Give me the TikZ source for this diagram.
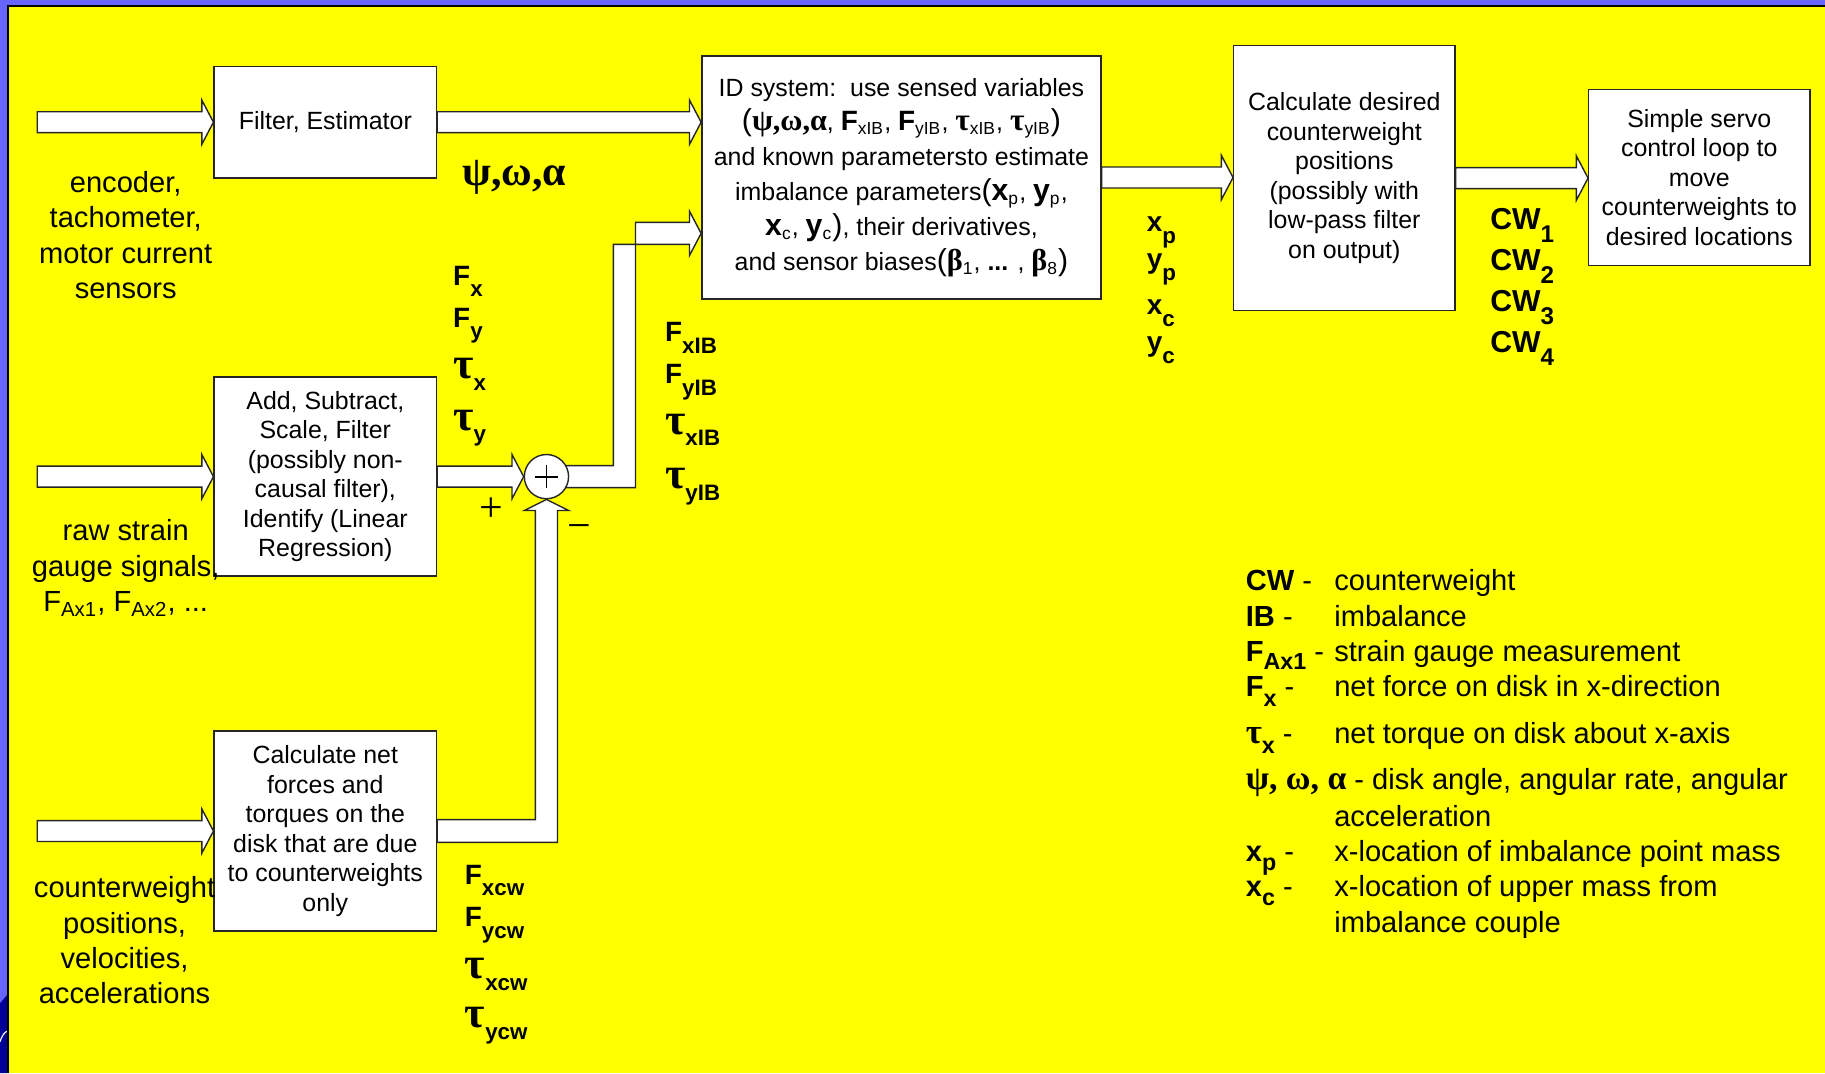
\documentclass[tikz,border=0pt]{standalone}
\usepackage{fontspec}
\setmainfont{Liberation Sans}
\newfontfamily\grk{Liberation Serif}
\usetikzlibrary{calc}
\definecolor{slideyellow}{RGB}{255,255,0}
\definecolor{slideblue}{RGB}{102,102,255}
\definecolor{logoblue}{RGB}{0,0,150}
\pgfdeclarelayer{back}
\pgfdeclarelayer{mid}
\pgfsetlayers{back,mid,main}
% subscript for the bold labels
\newcommand{\lo}[2][0.42]{\raisebox{-#1em}{\scalebox{0.8}{\rmfamily #2}}}
% greek letters
\newcommand{\gk}[2][12]{{\grk\bfseries\fontsize{#1}{#1}\selectfont #2}}
% hollow block arrow, horizontal
\newcommand{\flatarrow}[2]{%
  \draw[bigarrow] ($(#1)+(0,-9)$) -- ($(#2)+(-10,-9)$) -- ($(#2)+(-10,-19)$)
    -- (#2) -- ($(#2)+(-10,19)$) -- ($(#2)+(-10,9)$) -- ($(#1)+(0,9)$) -- cycle;}
\begin{document}
\begin{tikzpicture}[x=0.5pt,y=-0.5pt,
  box/.style={draw=black!85, fill=white, line width=0.6pt, align=center, inner sep=0pt, font=\fontsize{10.7}{12.7}\selectfont},
  bigarrow/.style={draw=black!85, fill=white, line width=0.6pt, line join=miter},
  lbl/.style={align=center, inner sep=0pt, font=\fontsize{12.5}{15.2}\selectfont},
  sym/.style={anchor=base west, inner sep=0pt, font=\fontsize{12}{12}\selectfont\bfseries},
  key/.style={anchor=base west, inner sep=0pt, font=\fontsize{12.5}{15}\selectfont},
  sign/.style={inner sep=0pt, font=\grk\fontsize{18}{18}\selectfont},
  sumnode/.style={circle, draw=black!85, fill=white, line width=0.6pt, minimum size=19pt, inner sep=0pt,
    path picture={\draw[black, line width=0.8pt] ([xshift=-5pt]path picture bounding box.center) -- ([xshift=5pt]path picture bounding box.center)
      ([yshift=-5pt]path picture bounding box.center) -- ([yshift=5pt]path picture bounding box.center);}}]
\useasboundingbox (0,0) rectangle (1568,922);

% slide background
\begin{pgfonlayer}{back}
\fill[slideyellow] (0,0) rectangle (1568,922);
\fill[slideblue] (0,0) rectangle (1568,4.5);
\fill[slideblue] (0,0) rectangle (6,922);
\fill[logoblue] (0,862) -- (6,855) -- (6,922) -- (0,922) -- cycle;
\draw[white, line width=0.5pt] (0,895) .. controls (2,889) and (4,887) .. (6,886);
\draw[line width=0.8pt] (1568,5.2) -- (6.8,5.2) -- (6.8,922);
\end{pgfonlayer}

% blocks
\node[box, minimum width=95.5pt, minimum height=48pt] (filt) at (279.5,105) {Filter, Estimator};
\node[box, minimum width=95.5pt, minimum height=85.5pt] (comb) at (279.5,409.5) {Add, Subtract,\\Scale, Filter\\(possibly non-\\causal filter),\\Identify (Linear\\Regression)};
\node[box, minimum width=95.5pt, minimum height=86pt] (cwcalc) at (279.5,714) {Calculate net\\forces and\\torques on the\\disk that are due\\to counterweights\\only};
\node[box, minimum width=171.5pt, minimum height=104.5pt, font=\fontsize{10.7}{15}\selectfont] (idsys) at (774.5,152.5) {ID system:\ \ use sensed variables\\
  {\fontsize{13}{13}\selectfont(}\gk[13]{ψ,ω,α}, {\fontsize{12}{12}\selectfont\textbf{F}}\textsubscript{xIB}, {\fontsize{12}{12}\selectfont\textbf{F}}\textsubscript{yIB}, \gk[13.5]{τ}\textsubscript{xIB}, \gk[13.5]{τ}\textsubscript{yIB}{\fontsize{13}{13}\selectfont)}\\
  and known parametersto estimate\\
  imbalance parameters{\fontsize{13}{13}\selectfont(\textbf{x}}\textsubscript{p}, {\fontsize{13}{13}\selectfont\textbf{y}}\textsubscript{p},\\
  {\fontsize{13}{13}\selectfont\textbf{x}}\textsubscript{c}, {\fontsize{13}{13}\selectfont\textbf{y}}\textsubscript{c}{\fontsize{13}{13}\selectfont)}, their derivatives,\\
  and sensor biases{\fontsize{13}{13}\selectfont(}\gk[13]{β}\textsubscript{1}, \textbf{...} , \gk[13]{β}\textsubscript{8}{\fontsize{13}{13}\selectfont)}};
\node[box, minimum width=95pt, minimum height=114pt] (desired) at (1155,153) {Calculate desired\\counterweight\\positions\\(possibly with\\low-pass filter\\on output)};
\node[box, minimum width=95pt, minimum height=75.5pt] (servo) at (1460,152.5) {Simple servo\\control loop to\\move\\counterweights to\\desired locations};
\node[sumnode] (sum) at (469.5,409.5) {};

\coordinate (in1) at (32,105);
\coordinate (in2) at (32,409.5);
\coordinate (in3) at (32,714);
\coordinate (bendA) at (536.5,200.5);

% block arrows
\begin{pgfonlayer}{mid}
\flatarrow{in1}{filt.west}
\flatarrow{in2}{comb.west}
\flatarrow{in3}{cwcalc.west}
\flatarrow{filt.east}{idsys.west |- filt.east}
\flatarrow{comb.east}{sum.west}
\flatarrow{idsys.east}{desired.west |- idsys.east}
\flatarrow{desired.east}{servo.west |- desired.east}
\draw[bigarrow] ($(sum)+(0,-9.5)$) -- ($(bendA |- sum)+(-9.5,-9.5)$) -- ($(bendA)+(-9.5,9.5)$)
  -- ($(idsys.west |- bendA)+(-10,9.5)$) -- ($(idsys.west |- bendA)+(-10,19)$) -- (idsys.west |- bendA)
  -- ($(idsys.west |- bendA)+(-10,-19)$) -- ($(idsys.west |- bendA)+(-10,-9.5)$)
  -- ($(bendA)+(9.5,-9.5)$) -- ($(bendA |- sum)+(9.5,9.5)$) -- ($(sum)+(0,9.5)$) -- cycle;
\draw[bigarrow] ($(cwcalc.east)+(0,-9.75)$) -- ($(sum |- cwcalc.east)+(-9.5,-9.75)$) -- ($(sum.south)+(-9.5,9.5)$)
  -- ($(sum.south)+(-19,9.5)$) -- (sum.south) -- ($(sum.south)+(19,9.5)$) -- ($(sum.south)+(9.5,9.5)$)
  -- ($(sum |- cwcalc.east)+(9.5,9.75)$) -- ($(cwcalc.east)+(0,9.75)$) -- cycle;
\end{pgfonlayer}

% inputs
\node[lbl] (encl) at (108,202) {encoder,\\tachometer,\\motor current\\sensors};
\node[lbl] (rawl) at (108,488) {raw strain\\gauge signals,\\F\textsubscript{Ax1}, F\textsubscript{Ax2}, ...};
\node[lbl] (cwl) at (107,808) {counterweight\\positions,\\velocities,\\accelerations};

% signals
\node[sym] (angles) at (397,159) {\gk[18]{ψ,ω,α}};
\node[sym] (fx) at (389,245) {F\lo{x}};
\node[sym] (fy) at (389,281) {F\lo{y}};
\node[sym] (tx) at (389,325) {\gk[19]{τ}\lo{x}};
\node[sym] (ty) at (389,369.5) {\gk[19]{τ}\lo{y}};
\node[sym] (fxib) at (571,293.5) {F\lo{xIB}};
\node[sym] (fyib) at (571,329.3) {F\lo{yIB}};
\node[sym] (txib) at (571,373) {\gk[19]{τ}\lo{xIB}};
\node[sym] (tyib) at (571,419.5) {\gk[19]{τ}\lo{yIB}};
\node[sym] (fxcw) at (399,759.5) {F\lo{xcw}};
\node[sym] (fycw) at (399,796) {F\lo{ycw}};
\node[sym] (txcw) at (399,840.5) {\gk[19]{τ}\lo{xcw}};
\node[sym] (tycw) at (399,883) {\gk[19]{τ}\lo{ycw}};
\node[sym] (xp) at (985,199) {x\lo{p}};
\node[sym] (yp) at (985,230.5) {y\lo{p}};
\node[sym] (xc) at (985,270.6) {x\lo{c}};
\node[sym] (yc) at (985,302) {y\lo{c}};
\node[sym, font=\fontsize{13}{13}\selectfont\bfseries] (cw1) at (1280,197.6) {CW\lo{1}};
\node[sym, font=\fontsize{13}{13}\selectfont\bfseries] (cw2) at (1280,232.6) {CW\lo{2}};
\node[sym, font=\fontsize{13}{13}\selectfont\bfseries] (cw3) at (1280,267.8) {CW\lo{3}};
\node[sym, font=\fontsize{13}{13}\selectfont\bfseries] (cw4) at (1280,303) {CW\lo{4}};
\node[sign] (plus) at (422,438) {+};
\node[sign] (minus) at (498,457) {−};

% legend
\node[key] (k1) at (1070,507.5) {\textbf{CW} -};
\node[key] (d1) at (1146,507.5) {counterweight};
\node[key] (k2) at (1070,538) {\textbf{IB} -};
\node[key] (d2) at (1146,538) {imbalance};
\node[key] (k3) at (1070,568.5) {\textbf{F\lo[0.28]{Ax1}} -};
\node[key] (d3) at (1146,568.5) {strain gauge measurement};
\node[key] (k4) at (1070,598.6) {\textbf{F\lo[0.32]{x}} -};
\node[key] (d4) at (1146,598.6) {net force on disk in x-direction};
\node[key] (k5) at (1070,639) {\gk[15]{τ}\textbf{\lo[0.32]{x}} -};
\node[key] (d5) at (1146,639) {net torque on disk about x-axis};
\node[key] (k6) at (1070,678.7) {\gk[14.5]{ψ, ω, α} - disk angle, angular rate, angular};
\node[key] (d6) at (1146,710) {acceleration};
\node[key] (k7) at (1070,740) {\textbf{x\lo[0.32]{p}} -};
\node[key] (d7) at (1146,740) {x-location of imbalance point mass};
\node[key] (k8) at (1070,770) {\textbf{x\lo[0.32]{c}} -};
\node[key] (d8) at (1146,770) {x-location of upper mass from};
\node[key] (d9) at (1146,801) {imbalance couple};
\end{tikzpicture}
\end{document}
